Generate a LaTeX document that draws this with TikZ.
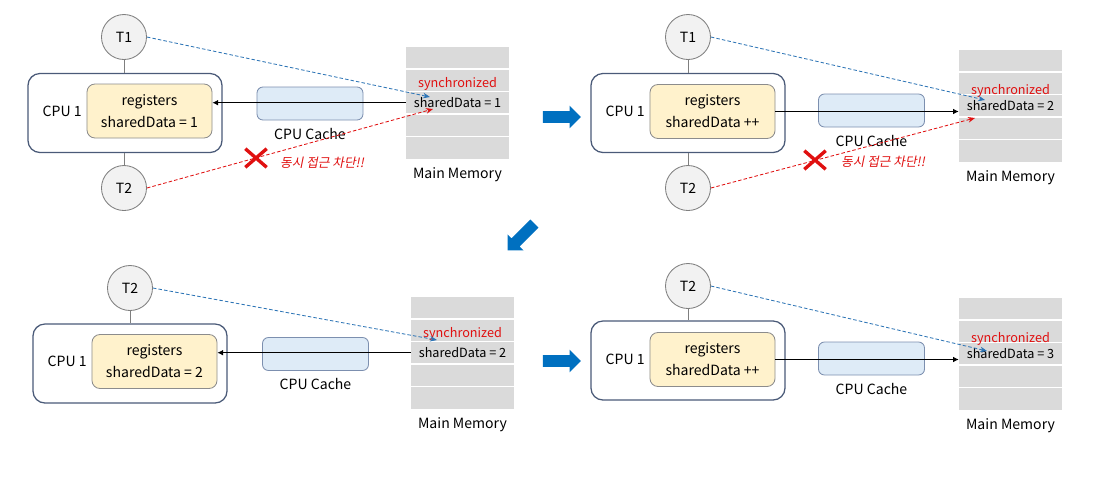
\documentclass[tikz,border=0pt]{standalone}
\usepackage{fontspec}
\setmainfont{Noto Sans CJK KR}
\newfontfamily\krslant[FakeSlant=0.2]{Noto Sans CJK KR}
\usepackage{tikz}
\usetikzlibrary{arrows.meta,positioning,shapes.arrows,shapes.misc}

\definecolor{threadfill}{HTML}{F2F2F2}
\definecolor{threadedge}{HTML}{7F7F7F}
\definecolor{cpuedge}{HTML}{4A5A78}
\definecolor{regfill}{HTML}{FFF2CC}
\definecolor{regedge}{HTML}{8C8C8C}
\definecolor{cachefill}{HTML}{DEEBF7}
\definecolor{cacheedge}{HTML}{7C8FAF}
\definecolor{memgray}{HTML}{DADADA}
\definecolor{linkblue}{HTML}{2E75B6}
\definecolor{lockred}{HTML}{E01010}
\definecolor{flowblue}{HTML}{0070C0}

\begin{document}
\begin{tikzpicture}[x=0.025cm, y=-0.025cm, font=\fontsize{10}{12}\selectfont,
    thread/.style={circle, draw=threadedge, fill=threadfill, line width=0.6pt, minimum size=1.125cm, inner sep=0pt},
    cpubox/.style={draw=cpuedge, line width=0.9pt, fill=white, rounded corners=0.3cm, minimum width=4.85cm, minimum height=1.975cm},
    regbox/.style={draw=regedge, line width=0.6pt, fill=regfill, rounded corners=0.2cm, minimum width=3.125cm, minimum height=1.35cm, align=center, font=\fontsize{10}{15.5}\selectfont},
    cachebox/.style={draw=cacheedge, line width=0.6pt, fill=cachefill, rounded corners=0.15cm, minimum width=2.65cm, minimum height=0.825cm},
    memcell/.style={fill=memgray, minimum width=2.575cm, minimum height=0.53cm, inner sep=0pt},
    memtext/.style={font=\fontsize{9}{10}\selectfont, inner sep=0pt},
    synctext/.style={memtext, text=lockred, yshift=-2.8pt},
    stem/.style={draw=threadedge, line width=0.6pt},
    bus/.style={-{Latex[length=4pt,width=4pt]}, line width=0.6pt},
    bluelink/.style={draw=linkblue, dash pattern=on 2.5pt off 1.5pt, line width=0.6pt, -{Stealth[length=5pt,width=4pt]}},
    redlink/.style={draw=lockred, dash pattern=on 2.5pt off 1.5pt, line width=0.6pt, -{Stealth[length=5pt,width=4pt]}},
    blocked/.style={cross out, draw=lockred, line width=2.4pt, minimum width=0.45cm, minimum height=0.38cm, inner sep=0pt},
    warn/.style={text=lockred, font=\krslant\fontsize{9}{10}\selectfont},
    flowarrow/.style={single arrow, fill=flowblue, draw=none, minimum height=0.95cm, inner sep=0.1375cm, single arrow head extend=0.14cm, single arrow head indent=0pt}
]
\useasboundingbox (0,0) rectangle (1100,483);

% Step 1: T1 reads, T2 blocked
\node[cpubox] (cpuA) at (125,113) {};
\node[regbox] (regA) at (149.5,111) {registers\\sharedData = 1};
\node[left=0pt of regA] (cpulblA) {CPU 1};
\node[thread] (t1A) at (124,37) {T1};
\node[thread] (t2A) at (124,188) {T2};
\node[cachebox] (cacheA) at (310,103.5) {};
\node[below=2pt of cacheA] (cachelblA) {CPU Cache};
\foreach \i in {1,...,5}
  \node[memcell] (memA\i) at (457.5,{57.5+(\i-1)*22.6}) {};
\node[synctext] (syncA) at (memA2) {synchronized};
\node[memtext] (valA) at (memA3) {sharedData = 1};
\node[below=3pt of memA5] (memlblA) {Main Memory};
\draw[stem] (t1A) -- (t1A |- cpuA.north);
\draw[stem] (t2A) -- (t2A |- cpuA.south);
\draw[bus] (memA3.west) -- (memA3.west -| regA.east);
\coordinate (hitA1) at (430,97);
\coordinate (hitA2) at (433,109);
\draw[bluelink] (t1A.east) -- (hitA1);
\draw[redlink] (t2A.east) -- (hitA2);
\node[blocked] (xA) at (256,158) {};
\node[warn] (warnA) at (322,163) {동시 접근 차단!!};

% Step 2: T1 writes back
\node[cpubox] (cpuB) at (688,113) {};
\node[regbox] (regB) at (712.5,111.5) {registers\\sharedData ++};
\node[left=0pt of regB] (cpulblB) {CPU 1};
\node[thread] (t1B) at (688,37) {T1};
\node[thread] (t2B) at (688,188) {T2};
\node[cachebox] (cacheB) at (871.5,110.5) {};
\node[below=2pt of cacheB] (cachelblB) {CPU Cache};
\foreach \i in {1,...,5}
  \node[memcell] (memB\i) at (1010.5,{60.5+(\i-1)*22.6}) {};
\node[synctext, yshift=-3pt] (syncB) at (memB2) {synchronized};
\node[memtext] (valB) at (memB3) {sharedData = 2};
\node[below=3pt of memB5] (memlblB) {Main Memory};
\draw[stem] (t1B) -- (t1B |- cpuB.north);
\draw[stem] (t2B) -- (t2B |- cpuB.south);
\draw[bus] (regB.east) -- (regB.east -| memB3.west);
\coordinate (hitB1) at (985,100);
\coordinate (hitB2) at (975,118);
\draw[bluelink] (t1B.east) -- (hitB1);
\draw[redlink] (t2B.east) -- (hitB2);
\node[blocked] (xB) at (815,160) {};
\node[warn] (warnB) at (883,162) {동시 접근 차단!!};

% Step 3: T2 reads
\node[cpubox] (cpuC) at (130,363.5) {};
\node[regbox] (regC) at (154.5,361.5) {registers\\sharedData = 2};
\node[left=0pt of regC] (cpulblC) {CPU 1};
\node[thread] (t2C) at (130,288) {T2};
\node[cachebox] (cacheC) at (315.5,354) {};
\node[below=2pt of cacheC] (cachelblC) {CPU Cache};
\foreach \i in {1,...,5}
  \node[memcell] (memC\i) at (462.5,{307.5+(\i-1)*22.6}) {};
\node[synctext] (syncC) at (memC2) {synchronized};
\node[memtext] (valC) at (memC3) {sharedData = 2};
\node[below=3pt of memC5] (memlblC) {Main Memory};
\draw[stem] (t2C) -- (t2C |- cpuC.north);
\draw[bus] (memC3.west) -- (memC3.west -| regC.east);
\coordinate (hitC1) at (437,340);
\draw[bluelink] (t2C.east) -- (hitC1);

% Step 4: T2 writes back
\node[cpubox] (cpuD) at (688,360.5) {};
\node[regbox] (regD) at (712.5,359.5) {registers\\sharedData ++};
\node[left=0pt of regD] (cpulblD) {CPU 1};
\node[thread] (t2D) at (688,286) {T2};
\node[cachebox] (cacheD) at (871.5,358.5) {};
\node[below=2pt of cacheD] (cachelblD) {CPU Cache};
\foreach \i in {1,...,5}
  \node[memcell] (memD\i) at (1010.5,{308.5+(\i-1)*22.6}) {};
\node[synctext, yshift=-3pt] (syncD) at (memD2) {synchronized};
\node[memtext] (valD) at (memD3) {sharedData = 3};
\node[below=3pt of memD5] (memlblD) {Main Memory};
\draw[stem] (t2D) -- (t2D |- cpuD.north);
\draw[bus] (regD.east) -- (regD.east -| memD3.west);
\coordinate (hitD1) at (987,351);
\draw[bluelink] (t2D.east) -- (hitD1);

% Flow between steps
\node[flowarrow] (goAB) at (559,117) {};
\node[flowarrow, rotate=225] (goBC) at (523,235) {};
\node[flowarrow] (goCD) at (559,361) {};
\end{tikzpicture}
\end{document}
